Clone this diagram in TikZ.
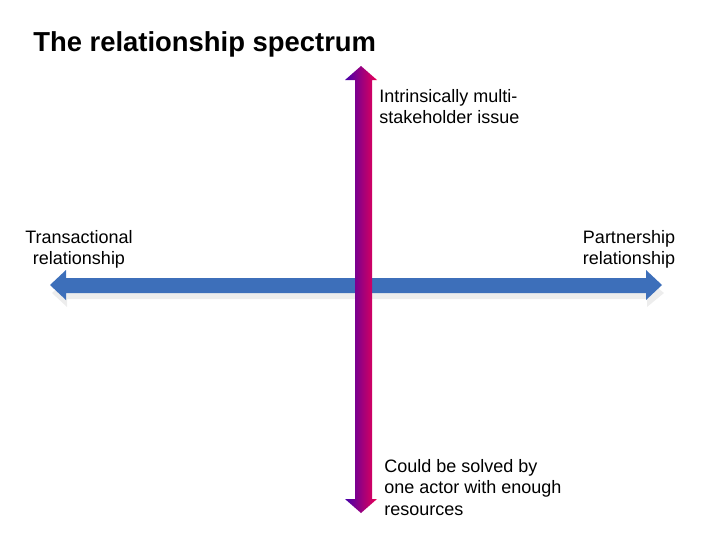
\documentclass[tikz,border=0pt]{standalone}
\usepackage{fontspec}
\setmainfont{Liberation Sans}
\definecolor{spanblue}{RGB}{61,111,186}
\definecolor{spanpurple}{RGB}{70,0,170}
\definecolor{spanmagenta}{RGB}{235,0,85}
\tikzset{
  lbl/.style={inner sep=0pt, align=left, font=\fontsize{12.8}{15.2}\selectfont},
}
\begin{document}
\begin{tikzpicture}[x=0.025cm, y=-0.025cm]
	\useasboundingbox (0,0) rectangle (720,540);
	% horizontal arrow
	\fill[black!7] (52,293) -- (67,279) -- (67,288) -- (647,288) -- (647,279) -- (664,293) -- (647,307) -- (647,299) -- (67,299) -- (67,307) -- cycle;
	\fill[spanblue] (50,285) -- (66,270) -- (66,278) -- (646,278) -- (646,270) -- (662,285) -- (646,300) -- (646,293) -- (66,293) -- (66,300) -- cycle;
	% vertical arrow
	\shade[left color=spanpurple, right color=spanmagenta]
		(361,66) -- (377,80) -- (372,80) -- (372,499) -- (377,499) -- (361,513) -- (345,499) -- (355,499) -- (355,80) -- (345,80) -- cycle;
	% labels
	\node[anchor=west, inner sep=0pt, font=\bfseries\fontsize{19.5}{23}\selectfont] (title) at (33,44) {The relationship spectrum};
	\node[lbl, anchor=north west] (top) at (379,89) {Intrinsically multi-\\stakeholder issue};
	\node[lbl, anchor=north west] (bottom) at (384,459) {Could be solved by\\one actor with enough\\resources};
	\node[lbl, align=center, anchor=north] (left) at (79,230) {Transactional\\relationship};
	\node[lbl, align=center, anchor=north] (right) at (629,230) {Partnership\\relationship};
\end{tikzpicture}
\end{document}
